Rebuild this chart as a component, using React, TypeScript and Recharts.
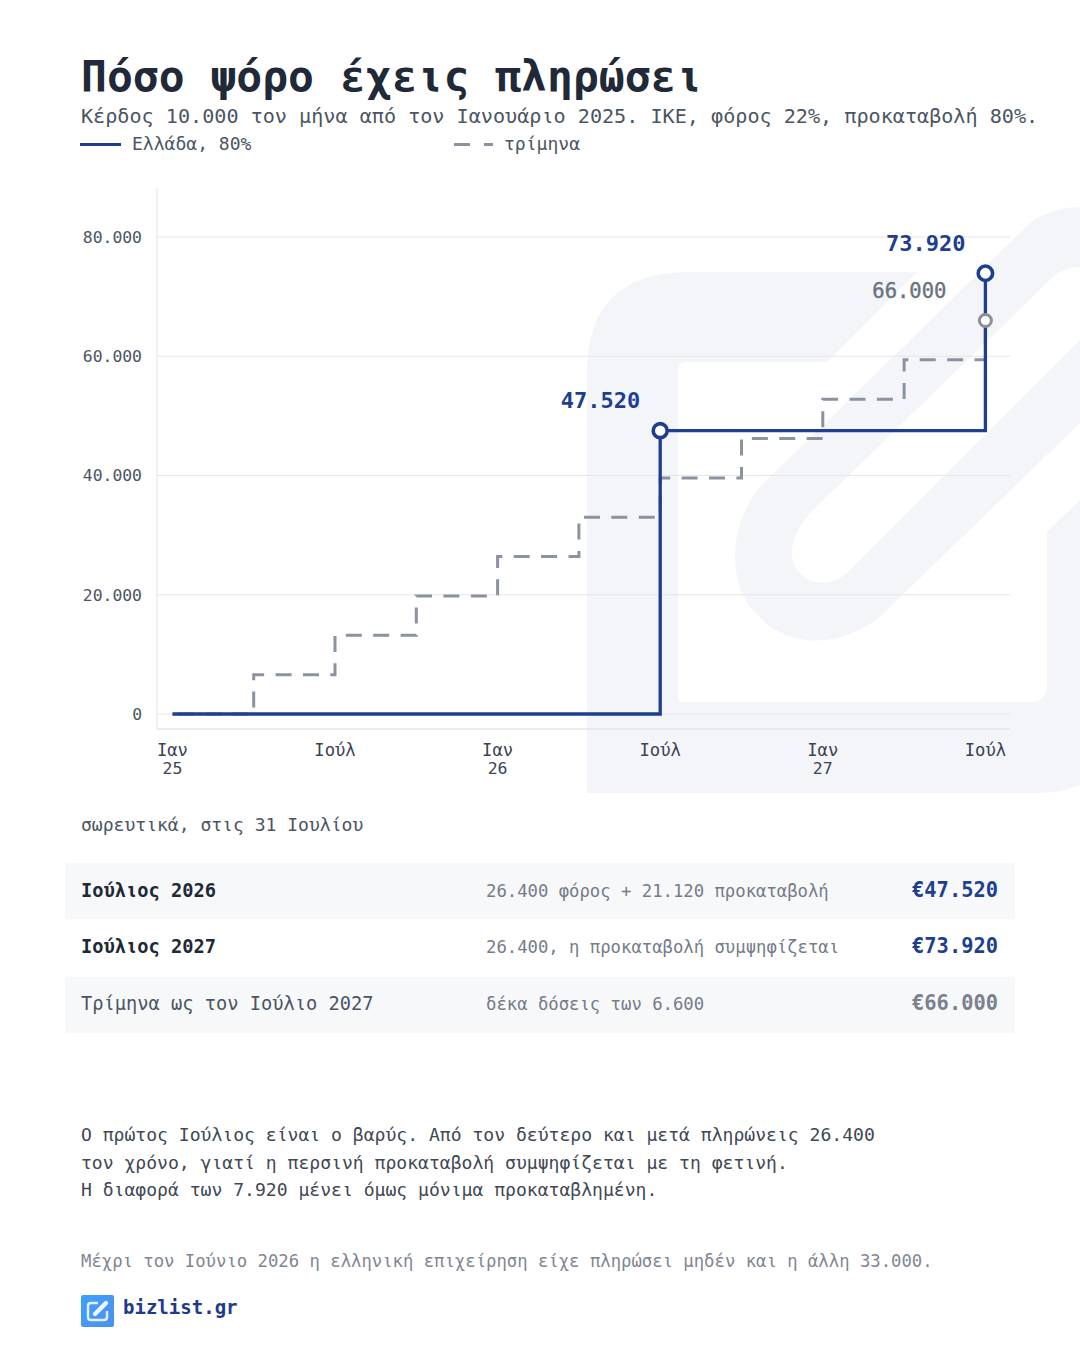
import React from 'react';
import { LineChart, Line, XAxis, YAxis, CartesianGrid, ReferenceDot } from 'recharts';

const FONT = '"DejaVu Sans Mono", monospace';
const BLUE = '#1e3f8f';
const GREY = '#8b92a0';

const months = [
  '2025-01','2025-02','2025-03','2025-04','2025-05','2025-06','2025-07','2025-08','2025-09','2025-10','2025-11','2025-12',
  '2026-01','2026-02','2026-03','2026-04','2026-05','2026-06','2026-07','2026-08','2026-09','2026-10','2026-11','2026-12',
  '2027-01','2027-02','2027-03','2027-04','2027-05','2027-06','2027-07',
];
const greeceValues = [
  0,0,0,0,0,0,0,0,0,0,0,0,
  0,0,0,0,0,0,47520,47520,47520,47520,47520,47520,
  47520,47520,47520,47520,47520,47520,73920,
];
const quarterlyValues = [
  0,0,0,6600,6600,6600,13200,13200,13200,19800,19800,19800,
  26400,26400,26400,33000,33000,33000,39600,39600,39600,46200,46200,46200,
  52800,52800,52800,59400,59400,59400,66000,
];
const yTicks = [0, 20000, 40000, 60000, 80000];
const yTickLabels = ['0', '20.000', '40.000', '60.000', '80.000'];
const xTicks = ['2025-01', '2025-07', '2026-01', '2026-07', '2027-01', '2027-07'];
const xTickTop = ['Ιαν', 'Ιούλ', 'Ιαν', 'Ιούλ', 'Ιαν', 'Ιούλ'];
const xTickBottom = ['25', '', '26', '', '27', ''];

const rowLabels = ['Ιούλιος 2026', 'Ιούλιος 2027', 'Τρίμηνα ως τον Ιούλιο 2027'];
const rowNotes = ['26.400 φόρος + 21.120 προκαταβολή', '26.400, η προκαταβολή συμψηφίζεται', 'δέκα δόσεις των 6.600'];
const rowValues = ['€47.520', '€73.920', '€66.000'];

const bodyLines = [
  'Ο πρώτος Ιούλιος είναι ο βαρύς. Από τον δεύτερο και μετά πληρώνεις 26.400',
  'τον χρόνο, γιατί η περσινή προκαταβολή συμψηφίζεται με τη φετινή.',
  'Η διαφορά των 7.920 μένει όμως μόνιμα προκαταβλημένη.',
];

const data = months.map((m, i) => ({ m, greece: greeceValues[i], quarterly: quarterlyValues[i] }));

function T({ x, y, size, color, bold, children, right }: any) {
  const pos: any = right != null ? { right: 1080 - right } : { left: x };
  return (
    <div
      style={{
        position: 'absolute', ...pos, top: y - 20, lineHeight: '40px', height: 40,
        fontFamily: FONT, fontSize: size, color, fontWeight: bold ? 700 : 400, whiteSpace: 'pre',
      }}
    >
      {children}
    </div>
  );
}

function XTick({ x, payload }: any) {
  const i = xTicks.indexOf(payload.value);
  return (
    <g fontFamily={FONT} fill="#3b4452" textAnchor="middle">
      <text x={x} y={756} fontSize={17.2}>{xTickTop[i]}</text>
      {xTickBottom[i] ? <text x={x} y={774} fontSize={16.5}>{xTickBottom[i]}</text> : null}
    </g>
  );
}

function YTick({ y, payload }: any) {
  const i = yTicks.indexOf(payload.value);
  return (
    <text x={142} y={y + 6} textAnchor="end" fontFamily={FONT} fontSize={16.4} fill="#4b5563">
      {yTickLabels[i]}
    </text>
  );
}

function marker(label: string, stroke: string, r: number, sw: number, textColor: string, size: number, dx: number, dy: number) {
  const strong = textColor === BLUE;
  return (props: any) => (
    <g>
      <circle cx={props.cx} cy={props.cy} r={r} fill="#ffffff" stroke={stroke} strokeWidth={sw} />
      <text x={props.cx + dx} y={props.cy + dy} textAnchor="end" fontFamily={FONT} fontSize={size}
        fontWeight={strong ? 700 : 400} fill={textColor} stroke={strong ? 'none' : textColor} strokeWidth={0.4}>{label}</text>
    </g>
  );
}

function Watermark() {
  const c = '#f3f5f9';
  return (
    <svg width={1080} height={800} style={{ position: 'absolute', left: 0, top: 0 }}>
      <path fill={c} d="M587,793 L587,372 Q587,272 690,272 L917,272 L827,362 L686,362 Q678,362 678,370 L678,698 Q678,702 682,702 L1030,702 Q1047,702 1047,685 L1047,532 L1080,500 L1080,785 Q1060,793 1040,793 Z" />
      <path fill={c} d="M1033,220 Q1055,207 1080,207 L1080,267 Q1065,267 1053,277 L815,508 C790,532 786,560 800,573 C815,588 835,585 850,570 L1080,340 L1080,423 L885,612 C845,650 785,650 755,612 C727,585 727,520 765,482 Z" />
    </svg>
  );
}

function Logo() {
  return (
    <svg width={33} height={32} viewBox="0 0 33 32" style={{ position: 'absolute', left: 81, top: 1295 }}>
      <defs>
        <linearGradient id="lg" x1="0" y1="0" x2="1" y2="1">
          <stop offset="0" stopColor="#3da0ff" />
          <stop offset="1" stopColor="#4e90ee" />
        </linearGradient>
      </defs>
      <rect width={33} height={32} rx={2} fill="url(#lg)" />
      <path d="M17,8 L10,8 Q7,8 7,11 L7,22 Q7,25 10,25 L23,25 Q26,25 26,22 L26,16" fill="none" stroke="#ffffff" strokeOpacity={0.85} strokeWidth={2.4} />
      <path d="M14,19 L25,8" fill="none" stroke="#ffffff" strokeOpacity={0.9} strokeWidth={4.4} strokeLinecap="round" />
    </svg>
  );
}

export default function App() {
  return (
    <div style={{ position: 'absolute', left: 0, top: 0, width: 1080, height: 1350, background: '#ffffff', overflow: 'hidden' }}>
      <Watermark />
      <T x={81} y={76} size={43} color="#1f2937" bold>Πόσο ψόρο έχεις πληρώσει</T>
      <T x={81} y={116} size={20.14} color="#4b5563">Κέρδος 10.000 τον μήνα από τον Ιανουάριο 2025. ΙΚΕ, φόρος 22%, προκαταβολή 80%.</T>

      <svg width={1080} height={160} style={{ position: 'absolute', left: 0, top: 0 }}>
        <line x1={80} x2={121} y1={144.5} y2={144.5} stroke={BLUE} strokeWidth={3} />
        <line x1={454} x2={493} y1={144.5} y2={144.5} stroke={GREY} strokeWidth={3} strokeDasharray="16 14" />
      </svg>
      <T x={132} y={144} size={18.05} color="#4b5563">Ελλάδα, 80%</T>
      <T x={504} y={144} size={18.05} color="#4b5563">τρίμηνα</T>

      <div style={{ position: 'absolute', left: 0, top: 0 }}>
        <LineChart width={1080} height={800} data={data} margin={{ top: 188, right: 70, bottom: 0, left: 81 }}>
          <CartesianGrid vertical={false} stroke="#e4e6ea" strokeWidth={1} horizontalValues={yTicks} />
          <XAxis dataKey="m" type="category" ticks={xTicks} interval={0} height={71} axisLine={{ stroke: '#e2e4e8', strokeWidth: 1.5 }}
            tickLine={false} padding={{ left: 15.4, right: 24.6 }} tick={<XTick />} />
          <YAxis type="number" width={76} domain={[-2516, 88218]} ticks={yTicks} allowDataOverflow axisLine={{ stroke: '#e2e4e8' }}
            tickLine={false} tick={<YTick />} />
          <Line dataKey="quarterly" type="stepAfter" stroke={GREY} strokeWidth={3} strokeDasharray="16 11.4" strokeDashoffset={-5.5} dot={false} activeDot={false} isAnimationActive={false} />
          <Line dataKey="greece" type="stepAfter" stroke={BLUE} strokeWidth={3.3} dot={false} activeDot={false} isAnimationActive={false} />
          <ReferenceDot x={months[18]} y={greeceValues[18]} shape={marker('47.520', BLUE, 7, 3.6, BLUE, 22, -20, -23)} />
          <ReferenceDot x={months[30]} y={quarterlyValues[30]} shape={marker('66.000', '#8a8f99', 6, 3, '#6b7280', 20.5, -39, -22)} />
          <ReferenceDot x={months[30]} y={greeceValues[30]} shape={marker('73.920', BLUE, 7.2, 3.6, BLUE, 22, -20, -22)} />
        </LineChart>
      </div>

      <T x={81} y={825} size={18.05} color="#4b5563">σωρευτικά, στις 31 Ιουλίου</T>

      {rowLabels.map((label, i) => {
        const y = [891, 947, 1004][i];
        const shaded = i !== 1;
        const top = [863, 919, 977][i];
        return (
          <React.Fragment key={label}>
            {shaded ? <div style={{ position: 'absolute', left: 65, top, width: 950, height: 56, background: '#f7f8fa', borderRadius: 2 }} /> : null}
            <T x={81} y={y} size={18.7} color={i < 2 ? '#1f2937' : '#4b5563'} bold={i < 2}>{label}</T>
            <T x={486} y={y} size={17.25} color="#757c88">{rowNotes[i]}</T>
            <T right={998} y={y - 1} size={20.4} color={i < 2 ? BLUE : '#7b818d'} bold>{rowValues[i]}</T>
          </React.Fragment>
        );
      })}

      {bodyLines.map((line, i) => (
        <T key={i} x={81} y={[1135, 1163, 1190][i]} size={18.07} color="#3f4855">{line}</T>
      ))}

      <T x={81} y={1261} size={17.25} color="#7f8692">Μέχρι τον Ιούνιο 2026 η ελληνική επιχείρηση είχε πληρώσει μηδέν και η άλλη 33.000.</T>

      <Logo />
      <T x={123} y={1307} size={19.05} color="#1e3a8a" bold>bizlist.gr</T>
    </div>
  );
}
